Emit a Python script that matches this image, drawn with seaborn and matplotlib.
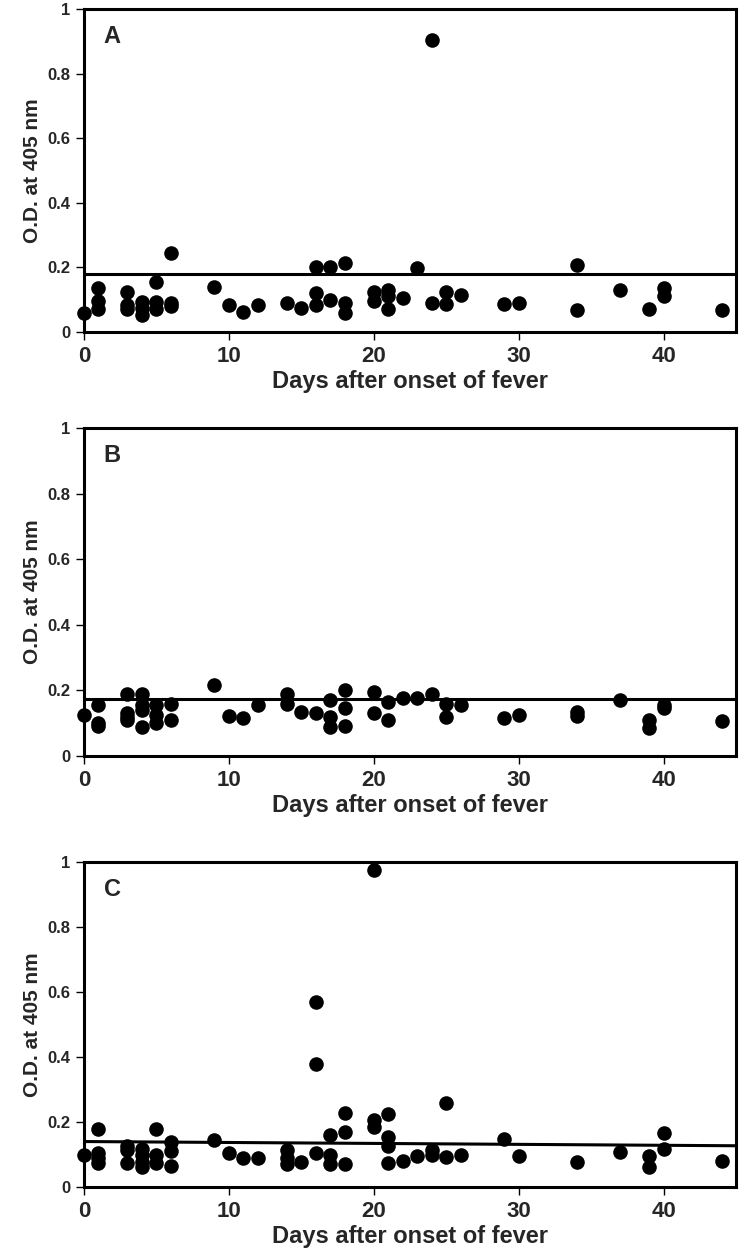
import seaborn as sns
import matplotlib.pyplot as plt
import pandas as pd

# panel A
days_a = [0, 1, 1, 1, 3, 3, 3, 4, 4, 4, 5, 5, 5, 6, 6, 6, 9, 10, 11, 12, 14, 15,
          16, 16, 16, 17, 17, 18, 18, 18, 20, 20, 21, 21, 21, 22, 23, 24, 24,
          25, 25, 26, 29, 30, 34, 34, 37, 39, 40, 40, 44]
od_a = [0.06, 0.135, 0.095, 0.07, 0.125, 0.084, 0.07, 0.094, 0.075, 0.053, 0.156, 0.094, 0.07,
        0.245, 0.09, 0.08, 0.14, 0.084, 0.063, 0.084, 0.09, 0.074,
        0.2, 0.12, 0.084, 0.2, 0.1, 0.213, 0.09, 0.058, 0.125, 0.095, 0.13, 0.11, 0.07,
        0.105, 0.198, 0.905, 0.09, 0.125, 0.087, 0.115, 0.087, 0.09, 0.207, 0.068,
        0.13, 0.072, 0.135, 0.11, 0.068]
cut_a = [0.18, 0.18]

# panel B
days_b = [0, 1, 1, 1, 3, 3, 3, 3, 4, 4, 4, 4, 5, 5, 5, 6, 6, 9, 10, 11, 12, 14, 14, 15,
          16, 17, 17, 17, 18, 18, 18, 20, 20, 21, 21, 22, 23, 24, 25, 25, 26, 29, 30,
          34, 34, 37, 39, 39, 40, 40, 44]
od_b = [0.125, 0.155, 0.1, 0.09, 0.19, 0.13, 0.12, 0.11, 0.19, 0.155, 0.14, 0.088,
        0.155, 0.125, 0.1, 0.16, 0.11, 0.216, 0.122, 0.115, 0.155, 0.19, 0.16, 0.135,
        0.13, 0.17, 0.12, 0.088, 0.2, 0.145, 0.09, 0.195, 0.13, 0.165, 0.11, 0.176, 0.176,
        0.19, 0.16, 0.12, 0.155, 0.115, 0.125, 0.135, 0.122, 0.17, 0.11, 0.085,
        0.155, 0.145, 0.107]
cut_b = [0.175, 0.175]

# panel C
days_c = [0, 1, 1, 1, 1, 3, 3, 3, 4, 4, 4, 4, 5, 5, 5, 6, 6, 6, 9, 10, 11, 12,
          14, 14, 14, 15, 16, 16, 16, 17, 17, 17, 18, 18, 18, 20, 20, 20, 21, 21, 21, 21,
          22, 23, 24, 24, 25, 25, 26, 29, 30, 34, 37, 39, 39, 40, 40, 44]
od_c = [0.098, 0.18, 0.105, 0.09, 0.073, 0.125, 0.115, 0.073, 0.118, 0.098, 0.078, 0.063,
        0.18, 0.098, 0.073, 0.14, 0.11, 0.065, 0.145, 0.104, 0.09, 0.09,
        0.115, 0.09, 0.07, 0.078, 0.57, 0.378, 0.105, 0.16, 0.098, 0.07, 0.228, 0.17, 0.07,
        0.975, 0.206, 0.186, 0.224, 0.155, 0.125, 0.073,
        0.081, 0.095, 0.113, 0.098, 0.26, 0.091, 0.098, 0.148, 0.097, 0.077, 0.107,
        0.097, 0.063, 0.167, 0.117, 0.081]
cut_c = [0.14, 0.127]

line_x = [0, 45]
letters = ["A", "B", "C"]
y_ticks = [0, 0.2, 0.4, 0.6, 0.8, 1]
y_labels = ["0", "0.2", "0.4", "0.6", "0.8", "1"]
x_ticks = [0, 10, 20, 30, 40]

sns.set_style("white")
plt.rcParams["font.family"] = ["Liberation Sans", "DejaVu Sans"]

fig = plt.figure(figsize=(7.4, 12.56), dpi=100)
boxes = [(0.7357, 0.9928), (0.3981, 0.6592), (0.0549, 0.3137)]
panels = [(days_a, od_a, cut_a), (days_b, od_b, cut_b), (days_c, od_c, cut_c)]

for (bot, top), (d, od, cut), letter in zip(boxes, panels, letters):
    ax = fig.add_axes([0.1135, bot, 0.9946 - 0.1135, top - bot])
    df = pd.DataFrame({"day": d, "od": od})
    sns.scatterplot(data=df, x="day", y="od", ax=ax, color="black", s=110,
                    edgecolor="black", linewidth=0, zorder=3, clip_on=False)
    ax.plot(line_x, cut, color="black", lw=2.2, zorder=2)
    ax.set_xlim(0, 45)
    ax.set_ylim(0, 1)
    ax.set_xticks(x_ticks)
    ax.set_xticklabels([str(t) for t in x_ticks], fontsize=16, fontweight="bold")
    ax.set_yticks(y_ticks)
    ax.set_yticklabels(y_labels, fontsize=12, fontweight="bold")
    ax.tick_params(axis="both", direction="out", length=6, width=1, color="black",
                   left=True, bottom=True, pad=4)
    for sp in ax.spines.values():
        sp.set_color("black")
        sp.set_linewidth(2.2)
    ax.set_xlabel("Days after onset of fever", fontsize=17, fontweight="bold", labelpad=2)
    ax.set_ylabel("O.D. at 405 nm", fontsize=15, fontweight="bold", labelpad=4)
    ax.text(0.03, 0.95, letter, transform=ax.transAxes, fontsize=17,
            fontweight="bold", va="top", ha="left")

fig.savefig("out.png", dpi=100)
